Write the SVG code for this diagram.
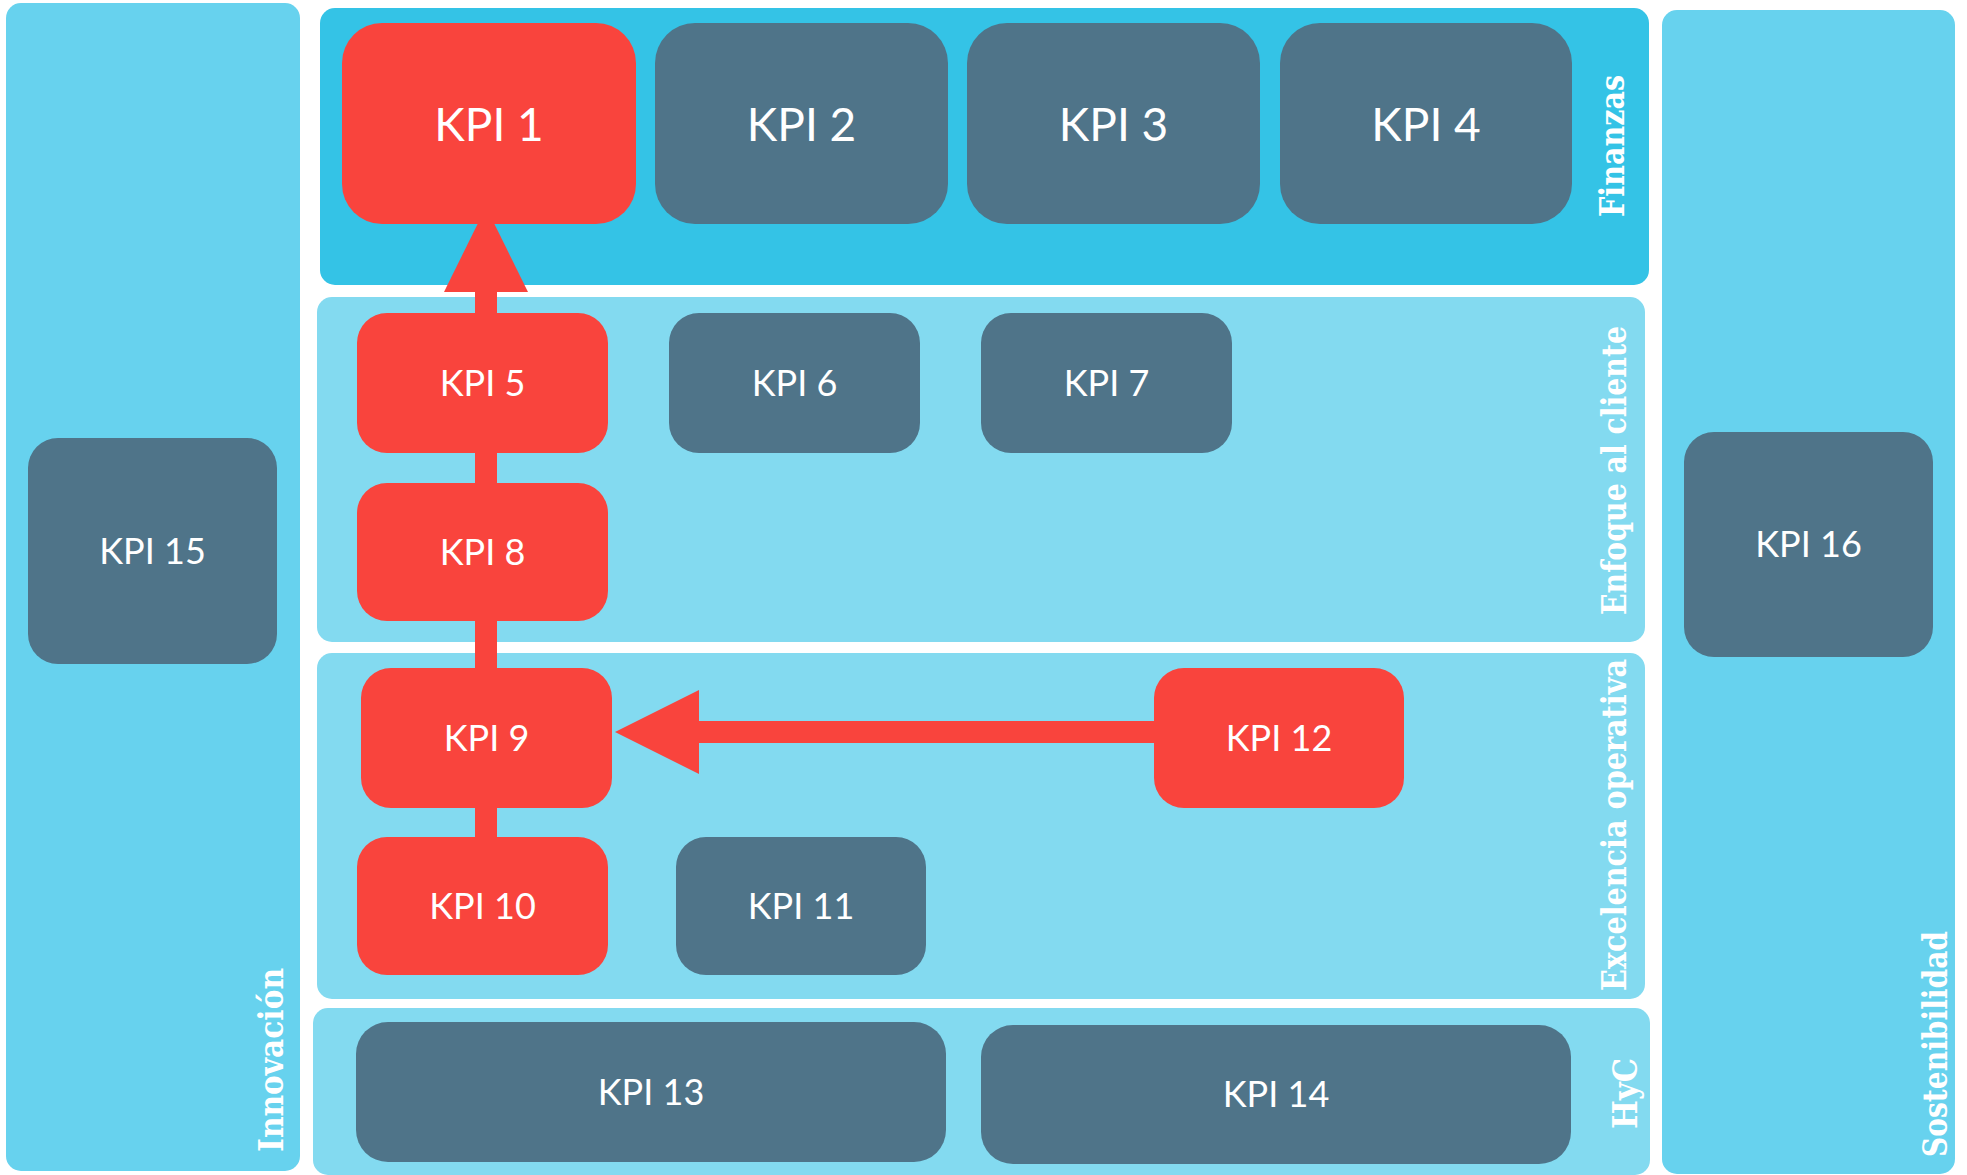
<svg xmlns="http://www.w3.org/2000/svg" width="1967" height="1175" viewBox="0 0 1967 1175">
<defs>
<style>
.side{fill:#67D2EE}
.fin{fill:#34C3E6}
.inner{fill:#83DAF0}
.gray{fill:#4F7489}
.red{fill:#F9443D}
.kpi{font-family:Lato,"Open Sans","Liberation Sans",sans-serif;fill:#FFFFFF;text-anchor:middle}
.big{font-size:46px}
.sm{font-size:36px}
.lbl{font-family:"DejaVu Serif","Liberation Serif",serif;font-weight:bold;font-size:33px;fill:#FFFFFF;text-anchor:start}
</style>
</defs>
<rect width="1967" height="1175" fill="#FFFFFF"/>
<g id="panels">
<g id="innovacion"><rect class="side" x="6" y="3" width="294" height="1168" rx="15"/>
<text class="lbl" transform="translate(283,1152) rotate(-90)" textLength="184" lengthAdjust="spacingAndGlyphs">Innovación</text></g>
<g id="sostenibilidad"><rect class="side" x="1662" y="10" width="293" height="1164" rx="15"/>
<text class="lbl" transform="translate(1947,1157) rotate(-90)" textLength="226" lengthAdjust="spacingAndGlyphs">Sostenibilidad</text></g>
<g id="finanzas"><rect class="fin" x="320" y="8" width="1329" height="277" rx="15"/>
<text class="lbl" transform="translate(1624,217) rotate(-90)" textLength="142" lengthAdjust="spacingAndGlyphs">Finanzas</text></g>
<g id="enfoque"><rect class="inner" x="317" y="297" width="1328" height="345" rx="15"/>
<text class="lbl" transform="translate(1626,615) rotate(-90)" textLength="289" lengthAdjust="spacingAndGlyphs">Enfoque al cliente</text></g>
<g id="excelencia"><rect class="inner" x="317" y="653" width="1328" height="346" rx="15"/>
<text class="lbl" transform="translate(1626,991) rotate(-90)" textLength="332" lengthAdjust="spacingAndGlyphs">Excelencia operativa</text></g>
<g id="hyc"><rect class="inner" x="313" y="1008" width="1337" height="167" rx="15"/>
<text class="lbl" transform="translate(1637,1129) rotate(-90)" textLength="71" lengthAdjust="spacingAndGlyphs">HyC</text></g>
</g>
<g id="connectors">
<rect class="red" x="475" y="290" width="22" height="560"/>
<polygon class="red" points="444,292 528,292 486,207"/>
<rect class="red" x="697" y="721" width="460" height="22"/>
<polygon class="red" points="699,690 699,774 615,732"/>
</g>
<g id="kpi1"><rect class="red" x="342" y="23" width="294" height="201" rx="40"/><text class="kpi big" x="489" y="141">KPI 1</text></g>
<g id="kpi2"><rect class="gray" x="655" y="23" width="293" height="201" rx="40"/><text class="kpi big" x="801.5" y="141">KPI 2</text></g>
<g id="kpi3"><rect class="gray" x="967" y="23" width="293" height="201" rx="40"/><text class="kpi big" x="1113.5" y="141">KPI 3</text></g>
<g id="kpi4"><rect class="gray" x="1280" y="23" width="292" height="201" rx="40"/><text class="kpi big" x="1426" y="141">KPI 4</text></g>
<g id="kpi5"><rect class="red" x="357" y="313" width="251" height="140" rx="30"/><text class="kpi sm" x="482.5" y="396">KPI 5</text></g>
<g id="kpi6"><rect class="gray" x="669" y="313" width="251" height="140" rx="30"/><text class="kpi sm" x="794.5" y="396">KPI 6</text></g>
<g id="kpi7"><rect class="gray" x="981" y="313" width="251" height="140" rx="30"/><text class="kpi sm" x="1106.5" y="396">KPI 7</text></g>
<g id="kpi8"><rect class="red" x="357" y="483" width="251" height="138" rx="30"/><text class="kpi sm" x="482.5" y="565">KPI 8</text></g>
<g id="kpi9"><rect class="red" x="361" y="668" width="251" height="140" rx="30"/><text class="kpi sm" x="486.5" y="751">KPI 9</text></g>
<g id="kpi12"><rect class="red" x="1154" y="668" width="250" height="140" rx="30"/><text class="kpi sm" x="1279" y="751">KPI 12</text></g>
<g id="kpi10"><rect class="red" x="357" y="837" width="251" height="138" rx="30"/><text class="kpi sm" x="482.5" y="919">KPI 10</text></g>
<g id="kpi11"><rect class="gray" x="676" y="837" width="250" height="138" rx="30"/><text class="kpi sm" x="801" y="919">KPI 11</text></g>
<g id="kpi13"><rect class="gray" x="356" y="1022" width="590" height="140" rx="32"/><text class="kpi sm" x="651" y="1105">KPI 13</text></g>
<g id="kpi14"><rect class="gray" x="981" y="1025" width="590" height="139" rx="32"/><text class="kpi sm" x="1276" y="1107">KPI 14</text></g>
<g id="kpi15"><rect class="gray" x="28" y="438" width="249" height="226" rx="30"/><text class="kpi sm" x="152.5" y="564">KPI 15</text></g>
<g id="kpi16"><rect class="gray" x="1684" y="432" width="249" height="225" rx="30"/><text class="kpi sm" x="1808.5" y="557">KPI 16</text></g>
</svg>
